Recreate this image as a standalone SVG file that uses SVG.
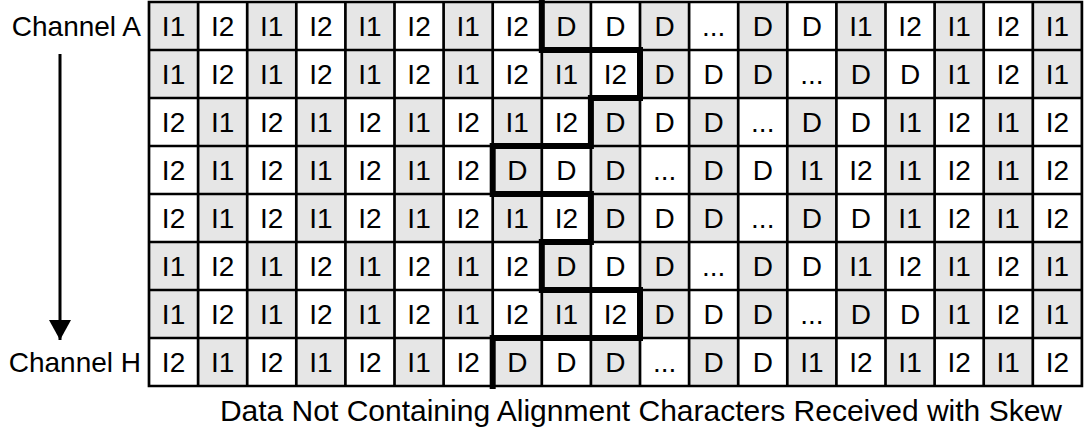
<svg xmlns="http://www.w3.org/2000/svg" width="1086" height="432" viewBox="0 0 1086 432">
<style>
text{font-family:"Liberation Sans",Arial,sans-serif;fill:#000}
.c{font-size:28px;text-anchor:middle}
.lbl{font-size:28px;text-anchor:end}
.cap{font-size:30px;text-anchor:end}
.g{fill:#e6e6e6}
.grid{fill:none;stroke:#000;stroke-width:2.7}
.thick{fill:none;stroke:#000;stroke-width:6;stroke-linejoin:miter;stroke-linecap:square}
</style>
<defs>
<marker id="ah" viewBox="0 0 20 22" refX="20" refY="11" markerWidth="20" markerHeight="22" markerUnits="userSpaceOnUse" orient="auto"><path d="M0,0 L20,11 L0,22 Z" fill="#000"/></marker>
</defs>
<rect width="1086" height="432" fill="#fff"/>
<g id="labels">
<text class="lbl" x="141" y="36">Channel A</text>
<text class="lbl" x="141" y="372">Channel H</text>
</g>
<g id="connectors">
<line x1="60" y1="54" x2="60" y2="340" stroke="#000" stroke-width="3" marker-end="url(#ah)"/>
</g>
<g id="shading">
<g id="shade-even" class="g">
<rect x="149" y="2" width="49.1" height="96"/><rect x="247.2" y="2" width="49.1" height="96"/><rect x="345.4" y="2" width="49.1" height="96"/><rect x="443.6" y="2" width="49.1" height="96"/><rect x="541.8" y="2" width="49.1" height="96"/><rect x="640" y="2" width="49.1" height="96"/><rect x="738.2" y="2" width="49.1" height="96"/><rect x="836.4" y="2" width="49.1" height="96"/><rect x="934.6" y="2" width="49.1" height="96"/><rect x="1032.8" y="2" width="49.1" height="96"/>
<rect x="149" y="242" width="49.1" height="96"/><rect x="247.2" y="242" width="49.1" height="96"/><rect x="345.4" y="242" width="49.1" height="96"/><rect x="443.6" y="242" width="49.1" height="96"/><rect x="541.8" y="242" width="49.1" height="96"/><rect x="640" y="242" width="49.1" height="96"/><rect x="738.2" y="242" width="49.1" height="96"/><rect x="836.4" y="242" width="49.1" height="96"/><rect x="934.6" y="242" width="49.1" height="96"/><rect x="1032.8" y="242" width="49.1" height="96"/>
</g>
<g id="shade-odd" class="g">
<rect x="198.1" y="98" width="49.1" height="144"/><rect x="296.3" y="98" width="49.1" height="144"/><rect x="394.5" y="98" width="49.1" height="144"/><rect x="492.7" y="98" width="49.1" height="144"/><rect x="590.9" y="98" width="49.1" height="144"/><rect x="689.1" y="98" width="49.1" height="144"/><rect x="787.3" y="98" width="49.1" height="144"/><rect x="885.5" y="98" width="49.1" height="144"/><rect x="983.7" y="98" width="49.1" height="144"/>
<rect x="198.1" y="338" width="49.1" height="48"/><rect x="296.3" y="338" width="49.1" height="48"/><rect x="394.5" y="338" width="49.1" height="48"/><rect x="492.7" y="338" width="49.1" height="48"/><rect x="590.9" y="338" width="49.1" height="48"/><rect x="689.1" y="338" width="49.1" height="48"/><rect x="787.3" y="338" width="49.1" height="48"/><rect x="885.5" y="338" width="49.1" height="48"/><rect x="983.7" y="338" width="49.1" height="48"/>
</g>
</g>
<g id="row1"><text class="c" y="36"><tspan x="173.55">I1</tspan><tspan x="222.65">I2</tspan><tspan x="271.75">I1</tspan><tspan x="320.85">I2</tspan><tspan x="369.95">I1</tspan><tspan x="419.05">I2</tspan><tspan x="468.15">I1</tspan><tspan x="517.25">I2</tspan><tspan x="566.35">D</tspan><tspan x="615.45">D</tspan><tspan x="664.55">D</tspan><tspan x="713.65">...</tspan><tspan x="762.75">D</tspan><tspan x="811.85">D</tspan><tspan x="860.95">I1</tspan><tspan x="910.05">I2</tspan><tspan x="959.15">I1</tspan><tspan x="1008.25">I2</tspan><tspan x="1057.35">I1</tspan></text></g>
<g id="row2"><text class="c" y="84"><tspan x="173.55">I1</tspan><tspan x="222.65">I2</tspan><tspan x="271.75">I1</tspan><tspan x="320.85">I2</tspan><tspan x="369.95">I1</tspan><tspan x="419.05">I2</tspan><tspan x="468.15">I1</tspan><tspan x="517.25">I2</tspan><tspan x="566.35">I1</tspan><tspan x="615.45">I2</tspan><tspan x="664.55">D</tspan><tspan x="713.65">D</tspan><tspan x="762.75">D</tspan><tspan x="811.85">...</tspan><tspan x="860.95">D</tspan><tspan x="910.05">D</tspan><tspan x="959.15">I1</tspan><tspan x="1008.25">I2</tspan><tspan x="1057.35">I1</tspan></text></g>
<g id="row3"><text class="c" y="132"><tspan x="173.55">I2</tspan><tspan x="222.65">I1</tspan><tspan x="271.75">I2</tspan><tspan x="320.85">I1</tspan><tspan x="369.95">I2</tspan><tspan x="419.05">I1</tspan><tspan x="468.15">I2</tspan><tspan x="517.25">I1</tspan><tspan x="566.35">I2</tspan><tspan x="615.45">D</tspan><tspan x="664.55">D</tspan><tspan x="713.65">D</tspan><tspan x="762.75">...</tspan><tspan x="811.85">D</tspan><tspan x="860.95">D</tspan><tspan x="910.05">I1</tspan><tspan x="959.15">I2</tspan><tspan x="1008.25">I1</tspan><tspan x="1057.35">I2</tspan></text></g>
<g id="row4"><text class="c" y="180"><tspan x="173.55">I2</tspan><tspan x="222.65">I1</tspan><tspan x="271.75">I2</tspan><tspan x="320.85">I1</tspan><tspan x="369.95">I2</tspan><tspan x="419.05">I1</tspan><tspan x="468.15">I2</tspan><tspan x="517.25">D</tspan><tspan x="566.35">D</tspan><tspan x="615.45">D</tspan><tspan x="664.55">...</tspan><tspan x="713.65">D</tspan><tspan x="762.75">D</tspan><tspan x="811.85">I1</tspan><tspan x="860.95">I2</tspan><tspan x="910.05">I1</tspan><tspan x="959.15">I2</tspan><tspan x="1008.25">I1</tspan><tspan x="1057.35">I2</tspan></text></g>
<g id="row5"><text class="c" y="228"><tspan x="173.55">I2</tspan><tspan x="222.65">I1</tspan><tspan x="271.75">I2</tspan><tspan x="320.85">I1</tspan><tspan x="369.95">I2</tspan><tspan x="419.05">I1</tspan><tspan x="468.15">I2</tspan><tspan x="517.25">I1</tspan><tspan x="566.35">I2</tspan><tspan x="615.45">D</tspan><tspan x="664.55">D</tspan><tspan x="713.65">D</tspan><tspan x="762.75">...</tspan><tspan x="811.85">D</tspan><tspan x="860.95">D</tspan><tspan x="910.05">I1</tspan><tspan x="959.15">I2</tspan><tspan x="1008.25">I1</tspan><tspan x="1057.35">I2</tspan></text></g>
<g id="row6"><text class="c" y="276"><tspan x="173.55">I1</tspan><tspan x="222.65">I2</tspan><tspan x="271.75">I1</tspan><tspan x="320.85">I2</tspan><tspan x="369.95">I1</tspan><tspan x="419.05">I2</tspan><tspan x="468.15">I1</tspan><tspan x="517.25">I2</tspan><tspan x="566.35">D</tspan><tspan x="615.45">D</tspan><tspan x="664.55">D</tspan><tspan x="713.65">...</tspan><tspan x="762.75">D</tspan><tspan x="811.85">D</tspan><tspan x="860.95">I1</tspan><tspan x="910.05">I2</tspan><tspan x="959.15">I1</tspan><tspan x="1008.25">I2</tspan><tspan x="1057.35">I1</tspan></text></g>
<g id="row7"><text class="c" y="324"><tspan x="173.55">I1</tspan><tspan x="222.65">I2</tspan><tspan x="271.75">I1</tspan><tspan x="320.85">I2</tspan><tspan x="369.95">I1</tspan><tspan x="419.05">I2</tspan><tspan x="468.15">I1</tspan><tspan x="517.25">I2</tspan><tspan x="566.35">I1</tspan><tspan x="615.45">I2</tspan><tspan x="664.55">D</tspan><tspan x="713.65">D</tspan><tspan x="762.75">D</tspan><tspan x="811.85">...</tspan><tspan x="860.95">D</tspan><tspan x="910.05">D</tspan><tspan x="959.15">I1</tspan><tspan x="1008.25">I2</tspan><tspan x="1057.35">I1</tspan></text></g>
<g id="row8"><text class="c" y="372"><tspan x="173.55">I2</tspan><tspan x="222.65">I1</tspan><tspan x="271.75">I2</tspan><tspan x="320.85">I1</tspan><tspan x="369.95">I2</tspan><tspan x="419.05">I1</tspan><tspan x="468.15">I2</tspan><tspan x="517.25">D</tspan><tspan x="566.35">D</tspan><tspan x="615.45">D</tspan><tspan x="664.55">...</tspan><tspan x="713.65">D</tspan><tspan x="762.75">D</tspan><tspan x="811.85">I1</tspan><tspan x="860.95">I2</tspan><tspan x="910.05">I1</tspan><tspan x="959.15">I2</tspan><tspan x="1008.25">I1</tspan><tspan x="1057.35">I2</tspan></text></g>
<g id="gridlines">
<path class="grid" d="M149,2H1081.9V386H149Z M149,50H1081.9 M149,98H1081.9 M149,146H1081.9 M149,194H1081.9 M149,242H1081.9 M149,290H1081.9 M149,338H1081.9 M198.1,2V386 M247.2,2V386 M296.3,2V386 M345.4,2V386 M394.5,2V386 M443.6,2V386 M492.7,2V386 M541.8,2V386 M590.9,2V386 M640,2V386 M689.1,2V386 M738.2,2V386 M787.3,2V386 M836.4,2V386 M885.5,2V386 M934.6,2V386 M983.7,2V386 M1032.8,2V386"/>
</g>
<g id="skew-boundary">
<path class="thick" d="M541.8,2V50H640V98H590.9V146H492.7V194H590.9V242H541.8V290H640V338H492.7V386"/>
</g>
<g id="caption">
<text class="cap" x="1062" y="421">Data Not Containing Alignment Characters Received with Skew</text>
</g>
</svg>
